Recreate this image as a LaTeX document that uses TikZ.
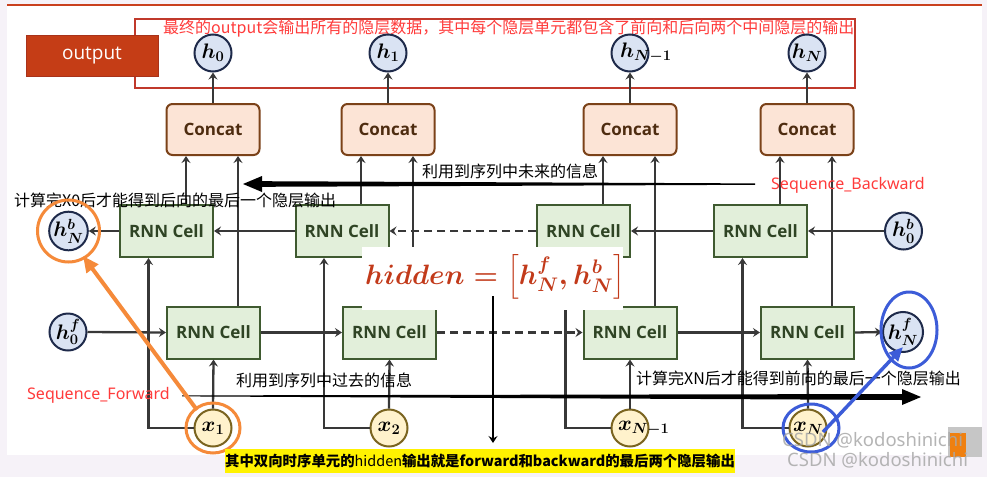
\RequirePackage{fix-cm}
\documentclass[tikz,border=0pt]{standalone}
\usepackage{amsmath}
\usepackage{fontspec}
\newfontfamily\cjk{Noto Sans CJK SC}
\newfontfamily\osans{Open Sans}
\newfontfamily\nsans{Noto Sans}
\usetikzlibrary{arrows.meta,shapes.geometric}
\definecolor{bglav}{HTML}{F6F2F8}
\definecolor{topred}{HTML}{C9401E}
\definecolor{outfill}{HTML}{C53D16}
\definecolor{outborder}{HTML}{A8321A}
\definecolor{outlinered}{HTML}{C0392B}
\definecolor{textred}{HTML}{FF3B3B}
\definecolor{hfill}{HTML}{DAE3F3}
\definecolor{hborder}{HTML}{1E2A4A}
\definecolor{xfill}{HTML}{FFF2CC}
\definecolor{xborder}{HTML}{7A6420}
\definecolor{cellfill}{HTML}{E2EFDA}
\definecolor{cellborder}{HTML}{3F5A30}
\definecolor{celltext}{HTML}{2F4424}
\definecolor{concatfill}{HTML}{FCE4D6}
\definecolor{concatborder}{HTML}{7B4219}
\definecolor{concattext}{HTML}{4E2C10}
\definecolor{conn}{HTML}{383838}
\definecolor{orng}{HTML}{F58A3A}
\definecolor{blu}{HTML}{3C5CD8}
\definecolor{formred}{HTML}{C23A1A}
\definecolor{wmgray}{HTML}{A8A8A8}
\begin{document}
\begin{tikzpicture}[x=1pt,y=-1pt,
  arr/.style={draw=conn, line width=2.3pt, -{Stealth[length=7pt,width=9pt,inset=2.5pt]}},
  dsh/.style={arr, dash pattern=on 8pt off 5pt},
  hnode/.style={circle, fill=hfill, draw=hborder, line width=2pt, minimum size=37pt, inner sep=0pt, font=\fontsize{21}{24}\selectfont\boldmath},
  xnode/.style={circle, fill=xfill, draw=xborder, line width=2pt, minimum size=37pt, inner sep=0pt, font=\fontsize{21}{24}\selectfont\boldmath},
  cell/.style={rectangle, fill=cellfill, draw=cellborder, line width=2pt, minimum width=93pt, minimum height=52pt, inner sep=0pt, text=celltext, font=\osans\bfseries\fontsize{17}{20}\selectfont},
  concat/.style={rectangle, rounded corners=6pt, fill=concatfill, draw=concatborder, line width=2pt, minimum width=93pt, minimum height=51pt, inner sep=0pt, text=concattext, font=\osans\bfseries\fontsize{17}{20}\selectfont},
  cjktext/.style={anchor=west, inner sep=0pt, font=\cjk\fontsize{16}{18}\selectfont},
  redlabel/.style={anchor=west, inner sep=0pt, text=textred, font=\nsans\fontsize{16}{18}\selectfont}
]
\useasboundingbox (0,0) rectangle (987,477);
\fill[bglav] (0,0) rectangle (987,477);
\fill[white] (7,6) rectangle (982,455);
\draw[topred, line width=2pt] (7,5) -- (982,5);
\fill[gray!45] (948,427) rectangle (982,457);
\fill[orange!75!brown] (950,433) rectangle (966,457);

% output region
\draw[outlinered, line width=2pt] (135,19) rectangle (855,88);
\node[fill=outfill, draw=outborder, line width=1pt, minimum width=132pt, minimum height=41pt, inner sep=0pt, text=white, font=\osans\fontsize{19}{22}\selectfont] (outlbl) at (92,55.5) {output};
\node[anchor=west, inner sep=0pt, text=textred, font=\cjk\fontsize{16}{18}\selectfont] (toptext) at (163,29) {最终的output会输出所有的隐层数据，其中每个隐层单元都包含了前向和后向两个中间隐层的输出};

% output circles
\node[hnode] (o0) at (213,53) {$h_0$};
\node[hnode] (o1) at (388,53) {$h_1$};
\node[hnode] (o2) at (630,53) {\makebox[20pt][l]{$h_{N-1}$}};
\node[hnode] (o3) at (807,53) {$h_N$};

% concat
\node[concat] (c0) at (213,129.5) {Concat};
\node[concat] (c1) at (388,129.5) {Concat};
\node[concat] (c2) at (630,129.5) {Concat};
\node[concat] (c3) at (807,129.5) {Concat};

% backward cells
\node[cell] (b0) at (166.5,231) {RNN Cell};
\node[cell] (b1) at (342,231) {RNN Cell};
\node[cell] (b2) at (583.5,231) {RNN Cell};
\node[cell] (b3) at (760.5,231) {RNN Cell};

% forward cells
\node[cell] (f0) at (213.5,332.5) {RNN Cell};
\node[cell] (f1) at (389.5,332.5) {RNN Cell};
\node[cell] (f2) at (630,332.5) {RNN Cell};
\node[cell] (f3) at (807.5,332.5) {RNN Cell};

% inputs
\node[xnode] (x1) at (213,428) {$x_1$};
\node[xnode] (x2) at (389,428) {$x_2$};
\node[xnode] (x3) at (630,428) {\makebox[24pt][l]{$x_{N-1}$}};
\node[xnode] (x4) at (808,428) {$x_N$};

% states
\node[hnode] (hNb) at (68.5,231) {$h_N^b$};
\node[hnode] (h0b) at (903.5,231) {$h_0^b$};
\node[hnode] (h0f) at (68,332) {$h_0^f$};
\node[hnode] (hNf) at (903,332) {$h_N^f$};

% concat -> output
\foreach \i in {0,1,2,3} {
  \draw[arr] (c\i.north) -- (o\i.south);
  \draw[arr] ([xshift=-27pt]c\i.south |- b\i.north) -- ([xshift=-27pt]c\i.south);
  \draw[arr] ([xshift=25pt]c\i.south |- f\i.north) -- ([xshift=25pt]c\i.south);
}
% inputs
\foreach \i/\j in {1/0,2/1,3/2,4/3} {
  \draw[arr] (x\i.north) -- (f\j.south);
  \draw[arr] (x\i.west) -| ([xshift=-18pt]b\j.south);
}
% backward chain
\draw[arr] (h0b.west) -- (b3.east);
\draw[arr] (b3.west) -- (b2.east);
\draw[dsh] (b2.west) -- (b1.east);
\draw[arr] (b1.west) -- (b0.east);
\draw[arr] (b0.west) -- (hNb.east);
% forward chain
\draw[arr] (h0f.east) -- (f0.west);
\draw[arr] (f0.east) -- (f1.west);
\draw[dsh] (f1.east) -- (f2.west);
\draw[arr] (f2.east) -- (f3.west);
\draw[arr] (f3.east) -- (hNf.west);

% sequence arrows
\fill[black] (755,183.4) -- (262,181.2) -- (262,176) -- (243,184) -- (262,192) -- (262,186.8) -- (755,184.8) -- cycle;
\fill[black] (182,395.4) -- (902,394) -- (902,389) -- (921,397) -- (902,405) -- (902,400) -- (182,396.4) -- cycle;
\node[cjktext] (futtxt) at (422,171) {利用到序列中未来的信息};
\node[redlabel] (seqb) at (771,185) {Sequence\_Backward};
\node[cjktext] (x0txt) at (14,200) {计算完X0后才能得到后向的最后一个隐层输出};
\node[cjktext] (pasttxt) at (236,380) {利用到序列中过去的信息};
\node[redlabel] (seqf) at (27,395) {Sequence\_Forward};
\node[cjktext] (xntxt) at (636,378) {计算完XN后才能得到前向的最后一个隐层输出};

% formula
\node[fill=white, minimum width=261pt, minimum height=63pt, inner sep=0pt] (fbox) at (492.5,278.5) {};
\node[text=formred, inner sep=0pt, font=\fontsize{28}{34}\selectfont\boldmath] (formula) at (495,277) {$hidden=\left[h^{f}_{N},h^{b}_{N}\right]$};
\coordinate (hidtop) at (493,296);
\coordinate (hidbot) at (493,443);
\draw[black, line width=1.4pt, -{Stealth[length=7pt,width=9pt,inset=2.5pt]}] (hidtop) -- (hidbot);

% highlight annotations
\draw[orng, line width=3pt] (hNb.center) circle[radius=31pt];
\draw[orng, line width=3pt] (x1.center) ellipse[x radius=27pt, y radius=25pt];
\coordinate (oa) at (197,410);
\coordinate (ob) at (83,256);
\draw[orng, line width=4pt, -{Triangle[length=16pt,width=14pt]}] (oa) -- (ob);
\draw[blu, line width=3pt] (909,330) ellipse[x radius=28pt, y radius=38pt];
\draw[blu, line width=3pt] (811,428) ellipse[x radius=28pt, y radius=24pt];
\coordinate (ba) at (823,432);
\coordinate (bb) at (903,347);
\draw[blu, line width=3.5pt, -{Triangle[length=14pt,width=12pt]}] (ba) -- (bb);

% bottom note
\node[fill=yellow, minimum width=510pt, minimum height=24pt, inner sep=0pt, font=\cjk\bfseries\fontsize{14.4}{17}\selectfont] (note) at (480,461) {其中双向时序单元的{\mdseries hidden}输出就是forward和backward的最后两个隐层输出};

% watermark
\node[anchor=west, inner sep=0pt, text=wmgray, opacity=0.85, font=\nsans\fontsize{18.5}{20}\selectfont] (wm1) at (782,440) {CSDN @kodoshinichi};
\node[anchor=west, inner sep=0pt, text=wmgray, opacity=0.85, font=\nsans\fontsize{18.5}{20}\selectfont] (wm2) at (787,460) {CSDN @kodoshinichi};
\end{tikzpicture}
\end{document}
